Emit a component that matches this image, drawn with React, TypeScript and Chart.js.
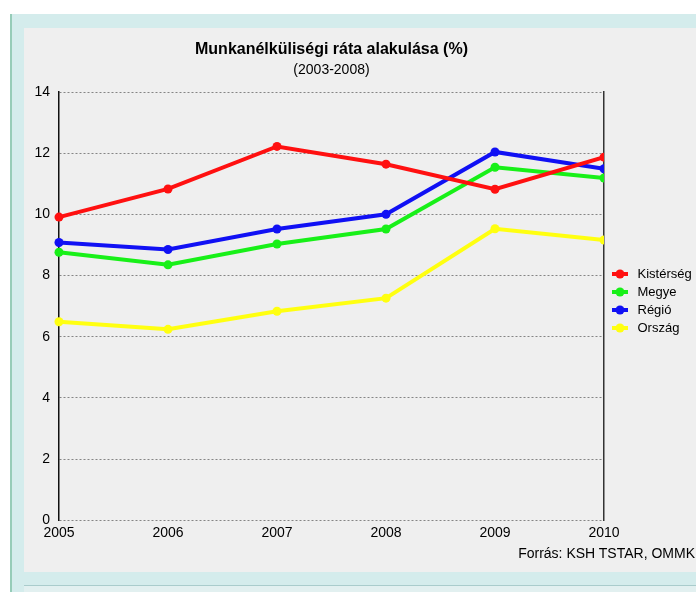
import React, { useEffect, useRef } from "react";
import { Chart, registerables } from "chart.js";

Chart.register(...registerables);

const TITLE = "Munkanélküliségi ráta alakulása (%)";
const SUBTITLE = "(2003-2008)";
const SOURCE = "Forrás: KSH TSTAR, OMMK";

const years = ["2005", "2006", "2007", "2008", "2009", "2010"];
const seriesNames = ["Kistérség", "Megye", "Régió", "Ország"];
const seriesColors = ["#ff1010", "#18f018", "#1010f4", "#ffff10"];
const kisterseg = [9.91, 10.83, 12.22, 11.64, 10.82, 11.87];
const megye = [8.76, 8.35, 9.03, 9.52, 11.54, 11.19];
const regio = [9.08, 8.85, 9.52, 10.0, 12.04, 11.49];
const orszag = [6.49, 6.24, 6.83, 7.26, 9.53, 9.16];
const seriesValues = [kisterseg, megye, regio, orszag];
const yMin = 0;
const yMax = 14;
const yStep = 2;

const FONT = "'Liberation Sans', Arial, Helvetica, sans-serif";

function makeMarker(color: string): HTMLCanvasElement {
  const c = document.createElement("canvas");
  c.width = 16;
  c.height = 10;
  const ctx = c.getContext("2d")!;
  ctx.strokeStyle = color;
  ctx.lineWidth = 4;
  ctx.beginPath();
  ctx.moveTo(0, 5);
  ctx.lineTo(16, 5);
  ctx.stroke();
  ctx.fillStyle = color;
  ctx.beginPath();
  ctx.arc(8, 5, 4.5, 0, Math.PI * 2);
  ctx.fill();
  return c;
}

export default function App() {
  const ref = useRef<HTMLCanvasElement | null>(null);

  useEffect(() => {
    if (!ref.current) return;
    Chart.defaults.font.family = FONT;
    const markers = seriesColors.map(makeMarker);
    const chart = new Chart(ref.current, {
      type: "line",
      data: {
        labels: years,
        datasets: seriesNames.map((name, i) => ({
          label: name,
          data: seriesValues[i],
          borderColor: seriesColors[i],
          backgroundColor: seriesColors[i],
          pointBackgroundColor: seriesColors[i],
          pointBorderWidth: 0,
          pointRadius: 4.5,
          borderWidth: 4,
          tension: 0,
          fill: false,
          clip: { left: false, top: false, right: 0, bottom: false } as any,
        })),
      },
      options: {
        animation: false,
        responsive: false,
        layout: { padding: { top: 40, left: 29, right: 0, bottom: 30 } },
        plugins: {
          title: {
            display: true,
            text: TITLE,
            fullSize: false,
            color: "#000",
            font: { size: 16, weight: "bold" },
            padding: { top: 0, bottom: 3 },
          },
          subtitle: {
            display: true,
            text: SUBTITLE,
            fullSize: false,
            color: "#000",
            font: { size: 14, weight: "normal" },
            padding: { top: 0, bottom: 13 },
          },
          legend: {
            display: true,
            position: "right",
            maxWidth: 92,
            labels: {
              usePointStyle: true,
              pointStyleWidth: 22,
              padding: 5,
              color: "#000",
              font: { size: 13 },
              generateLabels: (ch: any) =>
                ch.data.datasets.map((ds: any, i: number) => ({
                  text: ds.label,
                  fillStyle: ds.borderColor,
                  strokeStyle: ds.borderColor,
                  lineWidth: 0,
                  pointStyle: markers[i],
                  hidden: !ch.isDatasetVisible(i),
                  datasetIndex: i,
                  fontColor: "#000",
                })),
            },
          },
          tooltip: { enabled: false },
        },
        scales: {
          x: {
            grid: { display: false, drawTicks: false },
            border: { display: false },
            ticks: {
              color: "#000",
              font: { size: 14 },
              padding: 5,
              maxRotation: 0,
              autoSkip: false,
            },
            afterFit: (s: any) => {
              s.height += 15;
            },
          },
          y: {
            min: yMin,
            max: yMax,
            ticks: {
              stepSize: yStep,
              color: "#000",
              font: { size: 14 },
              padding: 9,
            },
            grid: { color: "#858585", drawTicks: false, lineWidth: 1 },
            border: { display: true, color: "#111", width: 1.5, dash: [2, 2] },
            afterFit: (s: any) => {
              s.width = 30;
            },
          },
          y2: {
            position: "right",
            min: yMin,
            max: yMax,
            ticks: { display: false },
            grid: { display: false, drawTicks: false },
            border: { display: true, color: "#333", width: 1.5 },
          },
        },
      },
    } as any);
    return () => chart.destroy();
  }, []);

  return (
    <div
      style={{
        position: "absolute",
        left: 0,
        top: 0,
        width: 696,
        height: 592,
        background: "#ffffff",
        overflow: "hidden",
      }}
    >
      <div style={{ position: "absolute", left: 12, top: 14, right: 0, bottom: 0, background: "#d4ecec" }} />
      <div style={{ position: "absolute", left: 10, top: 14, width: 2, bottom: 0, background: "#96ccb8" }} />
      <div style={{ position: "absolute", left: 24, top: 28, right: 0, height: 544, background: "#efefef" }} />
      <div style={{ position: "absolute", left: 24, top: 585, right: 0, height: 1, background: "#a9cccc" }} />
      <div style={{ position: "absolute", left: 24, top: 586, right: 0, bottom: 0, background: "#e2f0f0" }} />
      <canvas ref={ref} width={696} height={592} style={{ position: "absolute", left: 0, top: 0, width: 696, height: 592 }} />
      <div
        style={{
          position: "absolute",
          right: 1,
          top: 544,
          fontFamily: FONT,
          fontSize: 14,
          lineHeight: "18px",
          color: "#000",
          whiteSpace: "nowrap",
        }}
      >
        {SOURCE}
      </div>
    </div>
  );
}
